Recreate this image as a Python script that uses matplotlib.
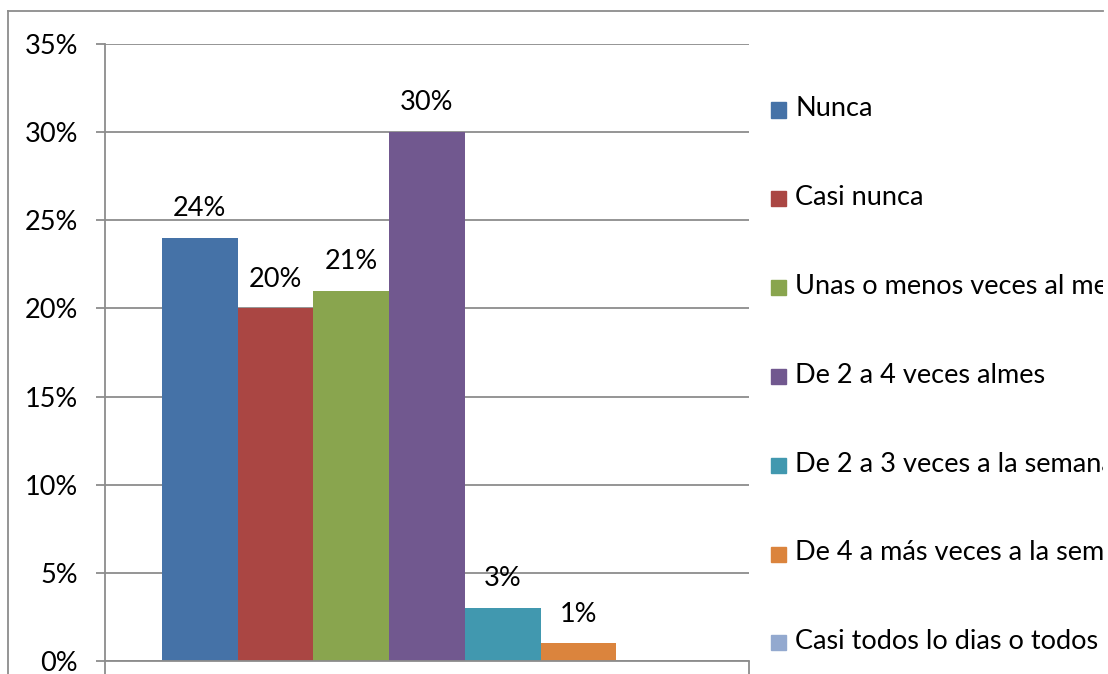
import matplotlib.pyplot as plt
from matplotlib.patches import Rectangle
from matplotlib.lines import Line2D

plt.rcParams['font.family'] = ['Lato', 'DejaVu Sans']

series = [
    "Nunca",
    "Casi nunca",
    "Unas o menos veces al mes",
    "De 2 a 4 veces almes",
    "De 2 a 3 veces a la semana",
    "De 4 a más veces a la semana",
    "Casi todos lo dias o todos los dias",
]
values = [24, 20, 21, 30, 3, 1, 0]
labels = ["24%", "20%", "21%", "30%", "3%", "1%", None]
colors = ["#4572A7", "#AA4643", "#89A54E", "#71588F", "#4198AF", "#DB843D", "#93A9CF"]
yticks = [0, 5, 10, 15, 20, 25, 30, 35]

W, H = 1108, 674
grey = "#8c8c8c"
fs = 19.5

fig = plt.figure(figsize=(W / 100, H / 100), dpi=100)
ax = fig.add_axes([105 / W, 13 / H, 644 / W, 617 / H])

# one category, seven series side by side (gap width 150%)
n = len(values)
w = 1 / (n + 1.5)
for i, (v, c, lab) in enumerate(zip(values, colors, labels)):
    x = 0.5 + (i - (n - 1) / 2) * w
    ax.bar(x, v, width=w, color=c, zorder=2)
    if lab:
        ax.annotate(lab, (x, v), xytext=(0, 21), textcoords="offset points",
                    ha="center", va="center", fontsize=fs, zorder=3)

ax.set_xlim(0, 1)
ax.set_ylim(0, 35)
ax.set_yticks(yticks)
ax.set_yticklabels([f"{t}%" for t in yticks], fontsize=fs)
ax.yaxis.grid(True, color=grey, lw=1.3, zorder=0)
ax.set_xticks([0, 1])
ax.set_xticklabels([])
ax.tick_params(axis="y", length=6.5, width=1.3, color=grey, pad=13)
ax.tick_params(axis="x", length=9, width=1.3, color=grey)
for s in ["top", "right"]:
    ax.spines[s].set_visible(False)
for s in ["left", "bottom"]:
    ax.spines[s].set_color(grey)
    ax.spines[s].set_linewidth(1.3)

# outer chart border
fig.add_artist(Line2D([8 / W, 8 / W], [0, 1 - 11 / H], color=grey, lw=1.3))
fig.add_artist(Line2D([8 / W, 1103 / W], [1 - 11 / H, 1 - 11 / H], color=grey, lw=1.3))

# legend, clipped at the chart area edge
clip = Rectangle((0, 0), 1103 / W, 1, transform=fig.transFigure)
y0, dy = 109, 88.8
for i, (name, c) in enumerate(zip(series, colors)):
    yc = 1 - (y0 + i * dy) / H
    sq = 15
    fig.add_artist(Rectangle((771 / W, yc - 1 / H - sq / 2 / H), sq / W, sq / H,
                             transform=fig.transFigure, color=c))
    t = fig.text(795 / W, yc, name, fontsize=fs, va="center", ha="left")
    t.set_clip_path(clip)

fig.savefig("out.png", dpi=100)
